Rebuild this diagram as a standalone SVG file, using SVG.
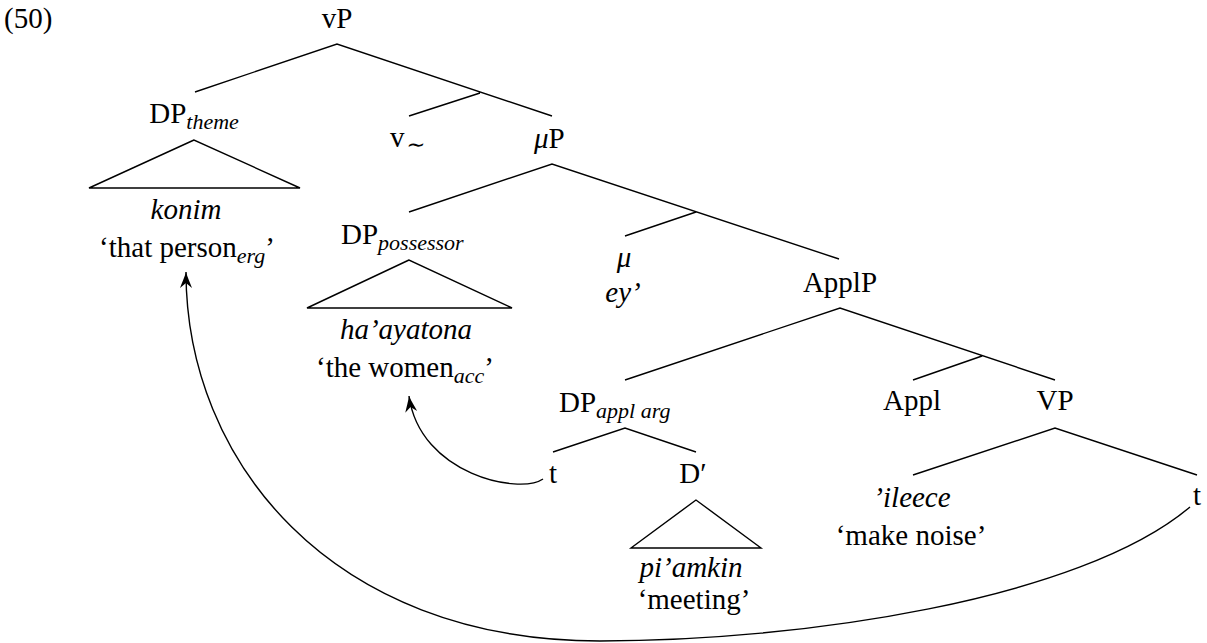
<svg xmlns="http://www.w3.org/2000/svg" width="1207" height="643" viewBox="0 0 1207 643" font-family="'Liberation Serif', 'Times New Roman', Times, serif">
<style>
text{font-family:'Liberation Serif','Times New Roman',Times,serif;font-size:29px;fill:#000}
.m{text-anchor:middle}
.i{font-style:italic}
.sub{font-size:22px;font-style:italic}
.br{stroke:#000;stroke-width:1.4;fill:none}
.mv{stroke:#000;stroke-width:1.4;fill:none;marker-end:url(#ah)}
</style>
<defs>
<marker id="ah" markerUnits="userSpaceOnUse" markerWidth="24" markerHeight="16" viewBox="-18 -8 20 16" refX="0" refY="0" orient="auto">
<path d="M0,0 C-5,-1.5 -11,-4 -16,-6 L-11,0 L-16,6 C-11,4 -5,1.5 0,0 Z" fill="#000"/>
</marker>
</defs>
<text x="4" y="28">(50)</text>
<g id="vP"><text class="m" x="337" y="28">vP</text></g>
<g id="DPtheme"><text class="m" x="194" y="123">DP<tspan class="sub" dy="6">theme</tspan></text>
<polygon class="br" points="194,140 89,188 300,188"/>
<text class="m i" x="186" y="219">konim</text>
<text class="m" x="187" y="257">‘that person<tspan class="sub" dy="6">erg</tspan><tspan dy="-6">’</tspan></text></g>
<g id="v"><text x="390" y="147">v<tspan class="sub" font-style="normal" dy="5">∼</tspan></text></g>
<g id="muP"><text x="534" y="148"><tspan class="i">μ</tspan>P</text></g>
<g id="DPposs"><text x="341" y="244">DP<tspan class="sub" dy="6">possessor</tspan></text>
<polygon class="br" points="409,260 307,308 512,308"/>
<text class="m i" x="406" y="339">ha’ayatona</text>
<text class="m" x="405" y="377">‘the women<tspan class="sub" dy="6">acc</tspan><tspan dy="-6">’</tspan></text></g>
<g id="mu"><text class="m i" x="624" y="267">μ</text><text class="m i" x="623" y="302">ey’</text></g>
<g id="ApplP"><text class="m" x="840" y="292">ApplP</text></g>
<g id="DPappl"><text x="559" y="412">DP<tspan class="sub" dy="6">appl arg</tspan></text></g>
<g id="Appl"><text class="m" x="912" y="410">Appl</text></g>
<g id="VP"><text class="m" x="1055" y="410">VP</text></g>
<g id="t1"><text class="m" x="553" y="483">t</text></g>
<g id="Dbar"><text class="m" x="693" y="483">D′</text>
<polygon class="br" points="696,500 631,548 761,548"/>
<text class="m i" x="691" y="577">pi’amkin</text>
<text class="m" x="694" y="609">‘meeting’</text></g>
<g id="V"><text class="m i" x="912" y="507">’ileece</text>
<text class="m" x="911" y="545">‘make noise’</text></g>
<g id="t2"><text class="m" x="1197" y="505">t</text></g>
<g id="connectors">
<path class="br" d="M195,92 L337,44 L552,116 M480,93 L409,116"/>
<path class="br" d="M409,212 L552,164 L839,259 M696,212 L625,236"/>
<path class="br" d="M625,380 L840,308 L1055,380 M982,356 L913,380"/>
<path class="br" d="M553,452 L625,428 L696,452"/>
<path class="br" d="M913,475 L1055,428 L1197,475"/>
<path class="mv" d="M543,479 C520,495 420,475 409,396"/>
<path class="mv" d="M1190,507 C1080,600 800,641 600,641 C330,641 186,460 186,272"/>
</g>
</svg>
